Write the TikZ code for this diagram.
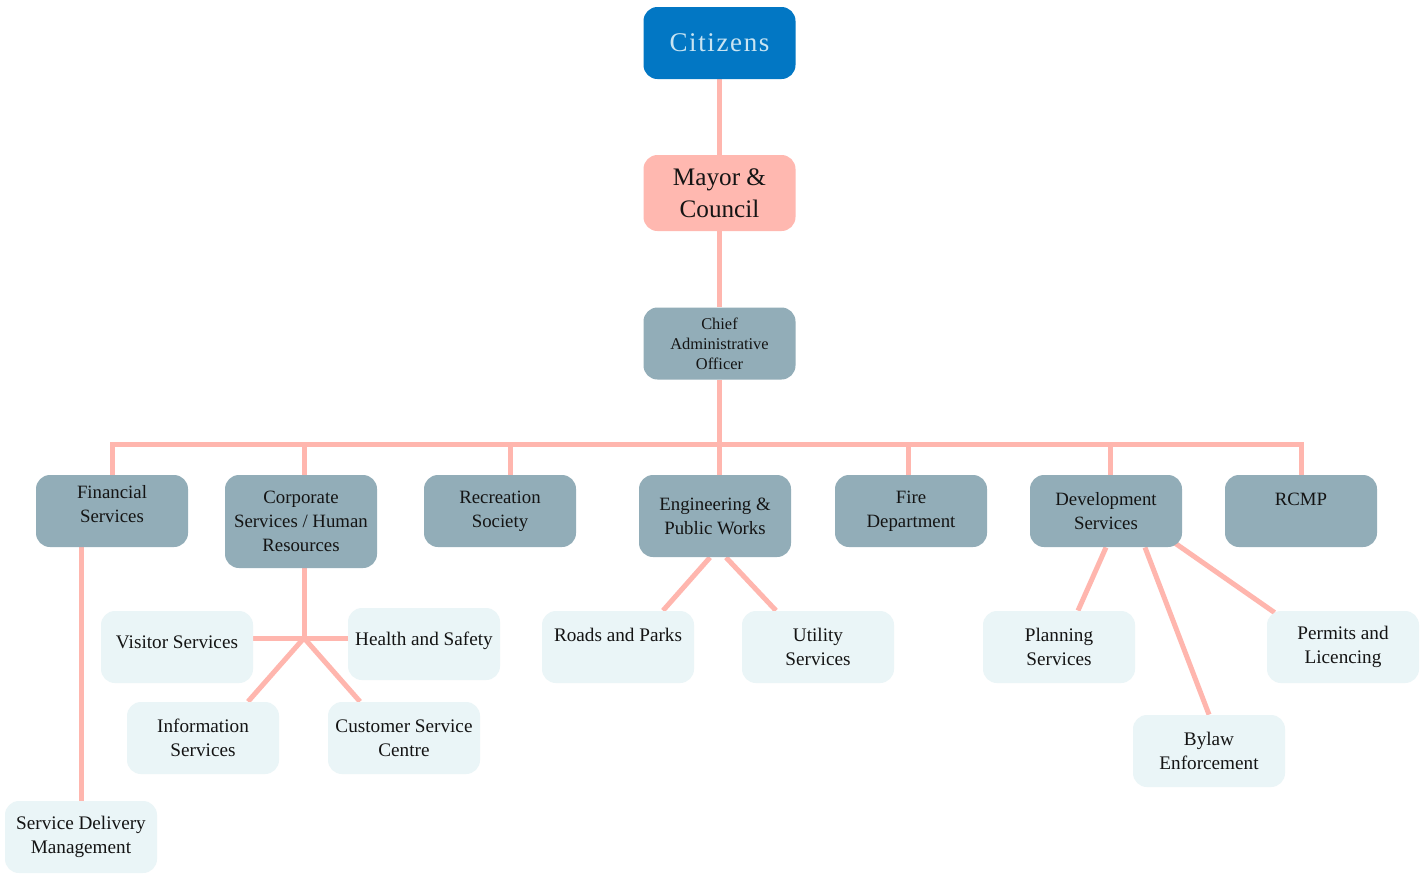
\documentclass[tikz,border=0pt]{standalone}
\usepackage{fontspec}
\setmainfont{Liberation Serif}
\newfontfamily\cityfont[LetterSpace=6]{Liberation Serif}
\usetikzlibrary{backgrounds}
\definecolor{citblue}{RGB}{2,119,196}
\definecolor{cittext}{RGB}{200,228,242}
\definecolor{mayorc}{RGB}{255,184,176}
\definecolor{deptc}{RGB}{146,173,184}
\definecolor{unitc}{RGB}{234,245,247}
\definecolor{linkc}{RGB}{255,182,174}
\definecolor{ink}{RGB}{20,20,20}

\begin{document}
\begin{tikzpicture}[x=0.5pt,y=-0.5pt,
  box/.style={rounded corners=7pt,minimum width=76pt,minimum height=36pt,
    align=center,inner sep=2pt,text=ink},
  citybox/.style={box,fill=citblue,text=cittext,font=\cityfont\fontsize{13.5}{16}\selectfont},
  mayorbox/.style={box,fill=mayorc,minimum height=38pt,font=\fontsize{12.6}{16}\selectfont},
  deptbox/.style={box,fill=deptc,font=\fontsize{9.4}{12}\selectfont},
  unitbox/.style={box,fill=unitc,font=\fontsize{9.6}{12}\selectfont},
  link/.style={draw=linkc,line width=2.5pt}]
  \useasboundingbox (0,0) rectangle (1424,873);
  % top of the chart
  \node[citybox] (citizens) at (719.5,43) {Citizens};
  \node[mayorbox] (mayor) at (719.5,193) {Mayor \&\\Council};
  \node[deptbox,font=\fontsize{8.2}{10}\selectfont] (cao) at (719.5,343.5) {Chief\\Administrative\\Officer};
  % departments
  \node[deptbox] (fin) at (112,511) {Financial\\Services\\[-5pt]\mbox{}};
  \node[deptbox,minimum height=46.5pt] (corp) at (301,521.5) {Corporate\\Services / Human\\Resources};
  \node[deptbox] (rec) at (500,511) {Recreation\\Society};
  \node[deptbox,minimum height=41pt] (eng) at (715,516) {Engineering \&\\Public Works};
  \node[deptbox] (fire) at (911,511) {Fire\\Department};
  \node[deptbox] (dev) at (1106,511) {Development\\Services};
  \node[deptbox] (rcmp) at (1301,511) {RCMP\\\mbox{}};
  % units
  \node[unitbox] (sdm) at (81,837) {Service Delivery\\Management};
  \node[unitbox] (vis) at (177,647) {Visitor Services\\[-7pt]\mbox{}};
  \node[unitbox] (hs) at (424,644) {Health and Safety\\[-7pt]\mbox{}};
  \node[unitbox] (info) at (203,738) {Information\\Services};
  \node[unitbox] (csc) at (404,738) {Customer Service\\Centre};
  \node[unitbox] (roads) at (618,647) {Roads and Parks\\\mbox{}};
  \node[unitbox] (util) at (818,647) {Utility\\Services};
  \node[unitbox] (plan) at (1059,647) {Planning\\Services};
  \node[unitbox] (bylaw) at (1209,751) {Bylaw\\Enforcement};
  \node[unitbox] (permit) at (1343,647) {Permits and\\Licencing};
  \coordinate (bus) at (720,444);
  \coordinate (hub) at (304,638);
  \begin{scope}[on background layer]
    \fill[white] (0,0) rectangle (1424,873);
    \draw[link] (citizens) -- (mayor) -- (cao);
    \draw[link] (cao) -- (cao |- eng.north);
    \draw[link] (fin.north) |- (bus) -| (rcmp.north);
    \foreach \n/\dx in {corp/1.5, rec/5, fire/-1.5, dev/2}
      {\draw[link] ([xshift=\dx pt]\n.north) -- ++(0,-31);}
    \draw[link] (sdm) -- (sdm |- fin);
    \draw[link] (hub |- corp.south) -- (hub);
    \draw[link] (vis.east |- hub) -- (hs.west |- hub);
    \draw[link] ([xshift=22.5pt]info.north) -- (hub) -- ([xshift=-22pt]csc.north);
    \draw[link] ([xshift=-2.5pt]eng.south) -- ([xshift=22.5pt]roads.north);
    \draw[link] ([xshift=5.5pt]eng.south) -- ([xshift=-21pt]util.north);
    \draw[link] (dev.south) -- ([xshift=9.5pt]plan.north);
    \draw[link] ([xshift=19.5pt]dev.south) -- (bylaw.north);
    \draw[link] ([xshift=-3.5pt,yshift=2pt]dev.south east) -- ([xshift=4pt,yshift=-1pt]permit.north west);
  \end{scope}
\end{tikzpicture}
\end{document}
